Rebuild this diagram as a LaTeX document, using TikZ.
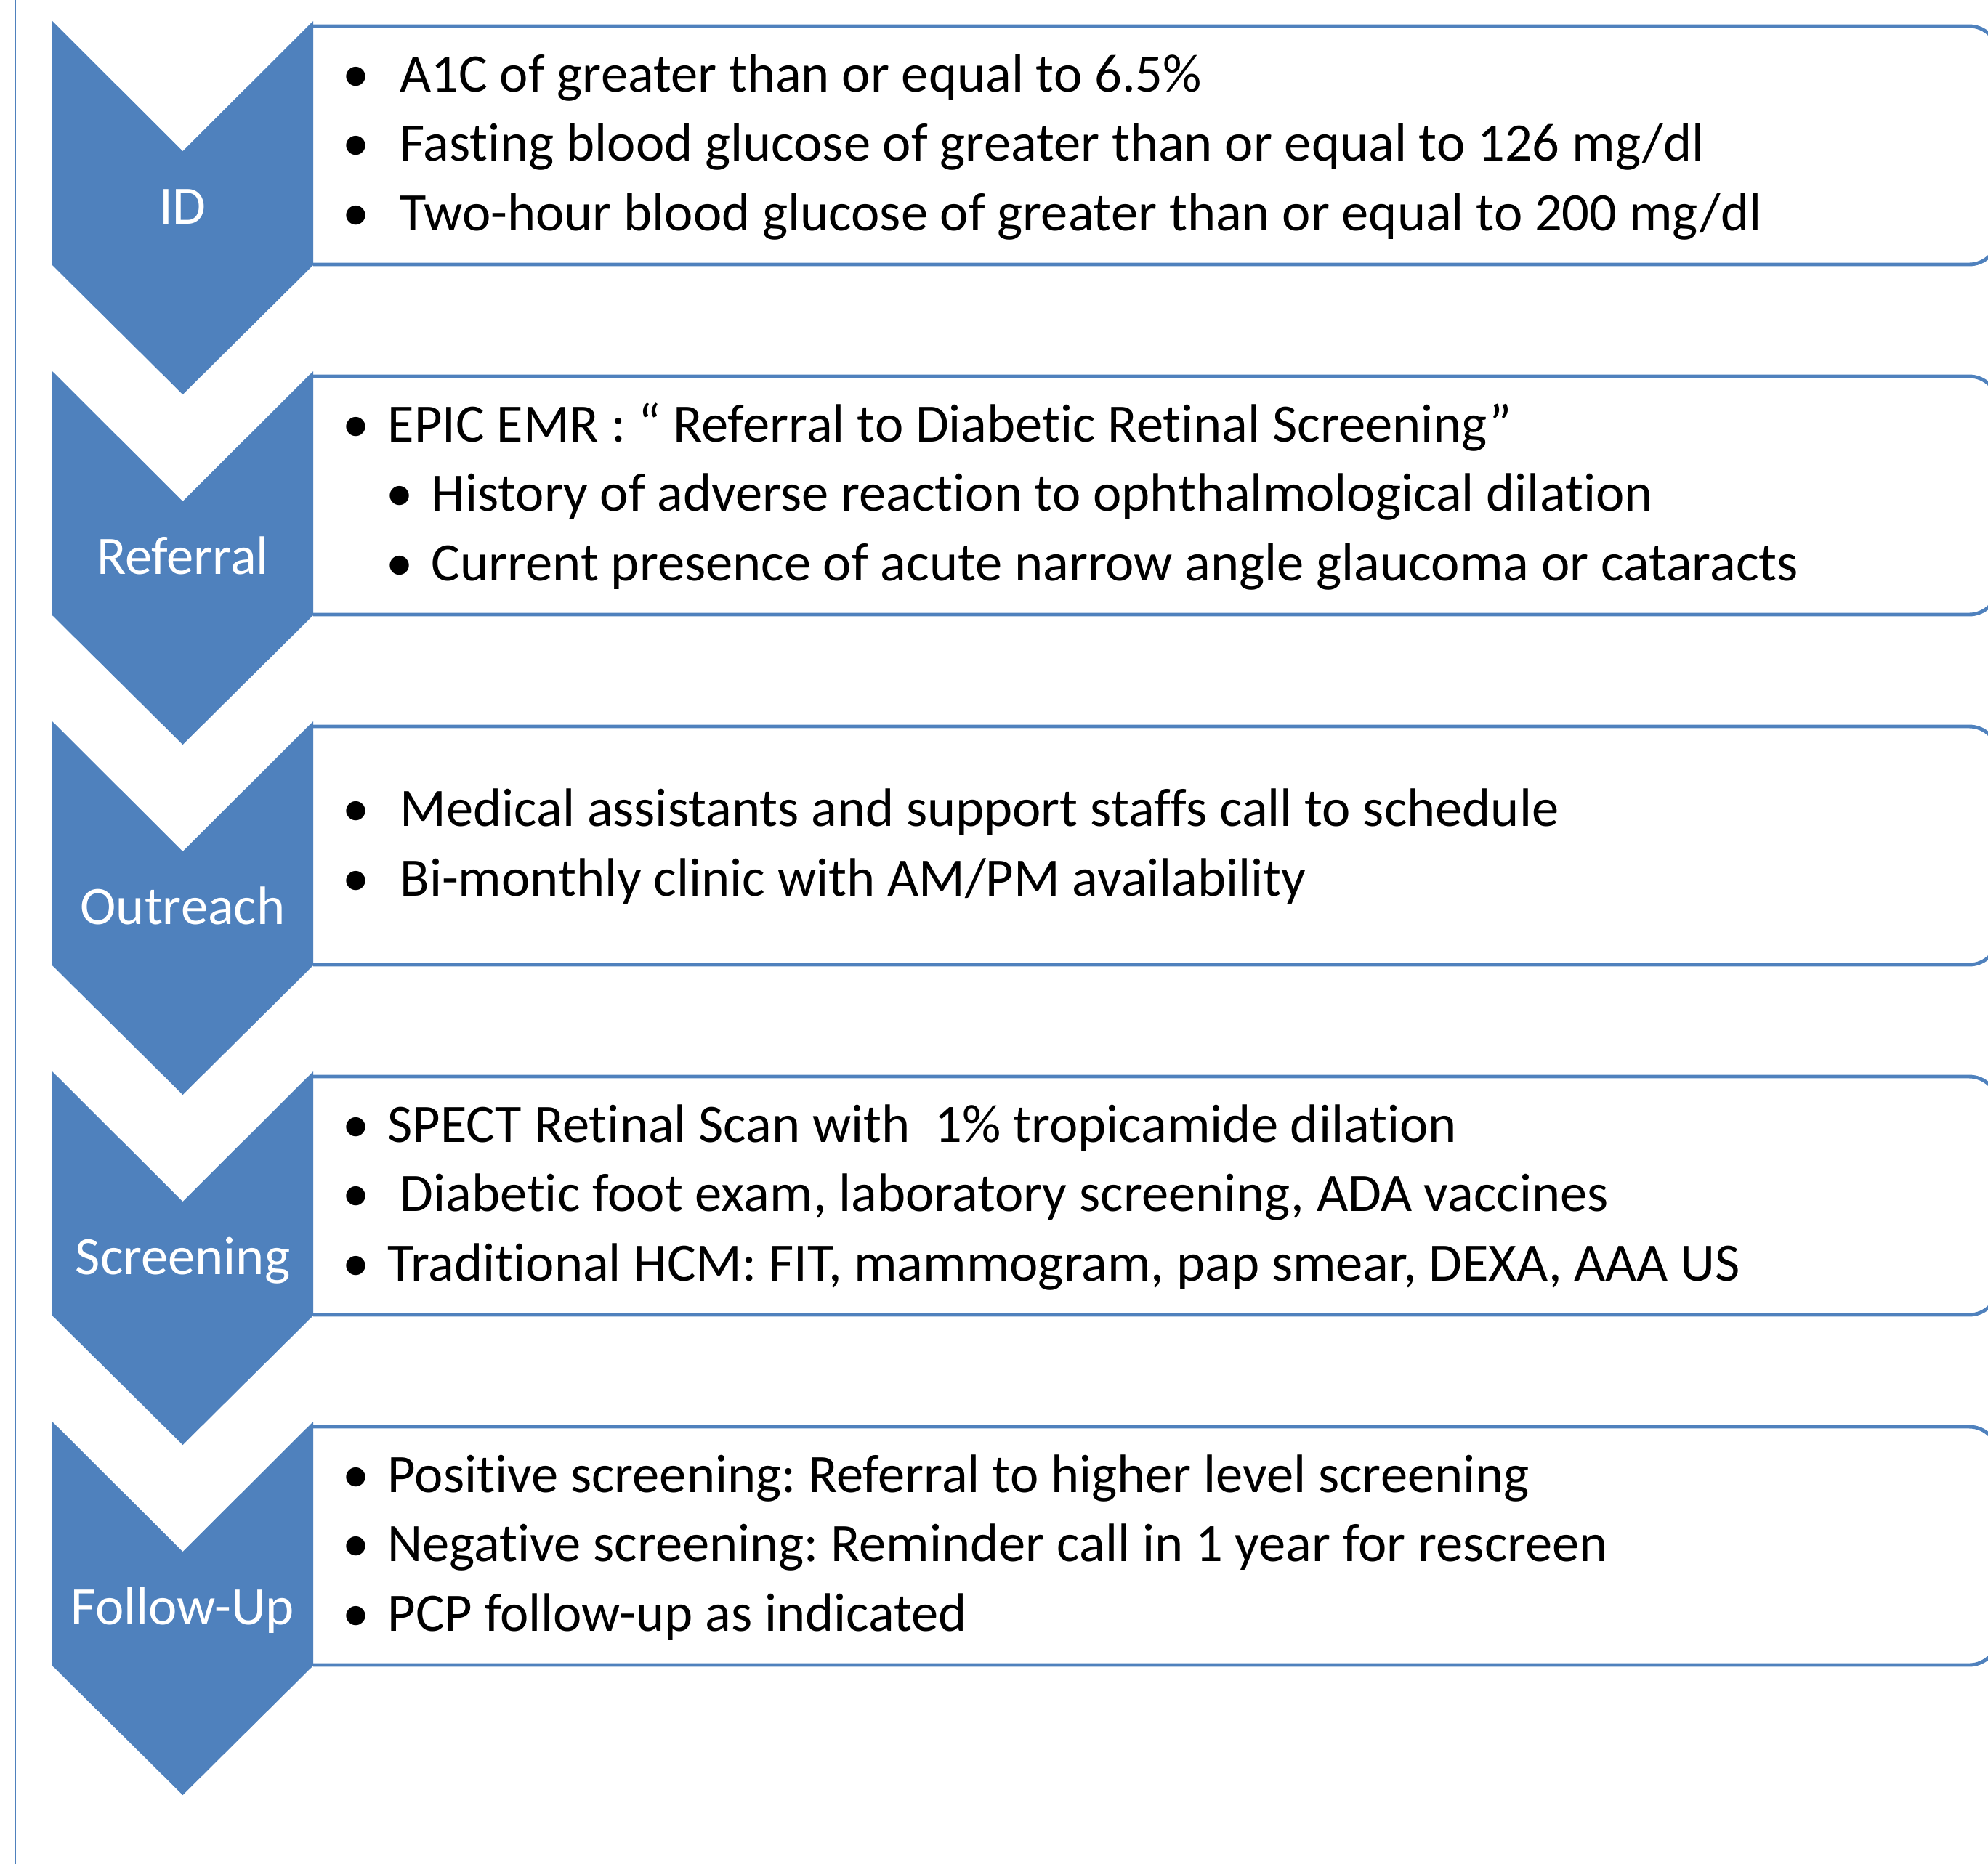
\documentclass[tikz,border=0pt]{standalone}
\usepackage{fontspec}
\setmainfont{Carlito}[Ligatures=NoCommon]
\definecolor{stepblue}{HTML}{4F81BD}
\newcommand{\blt}{\makebox[0pt]{\textbullet}\hspace{0.44cm}}
\frenchspacing

\begin{document}
\begin{tikzpicture}[every node/.style={font=\fontsize{21.2}{27.2}\selectfont},
		entry/.style={anchor=base west,inner sep=0pt},
		steplabel/.style={anchor=base,inner sep=0pt,text=white},
		chevron/.style={fill=stepblue},
		panel/.style={draw=stepblue,line width=1.4pt,rounded corners=0.4cm}]
			\useasboundingbox (0,0) rectangle (27.36,-25.66);
			\draw[stepblue,line width=0.6pt] (0.21,0) -- (0.21,-25.66);
			
			% text boxes
			\draw[panel] (4.31,-0.36) -- (27.5,-0.36) -- (27.5,-3.64) -- (4.31,-3.64);
			\draw[panel] (4.31,-5.18) -- (27.5,-5.18) -- (27.5,-8.46) -- (4.31,-8.46);
			\draw[panel] (4.31,-10.00) -- (27.5,-10.00) -- (27.5,-13.28) -- (4.31,-13.28);
			\draw[panel] (4.31,-14.82) -- (27.5,-14.82) -- (27.5,-18.10) -- (4.31,-18.10);
			\draw[panel] (4.31,-19.64) -- (27.5,-19.64) -- (27.5,-22.92) -- (4.31,-22.92);
			
			% chevrons
			\fill[chevron] (0.72,-0.29) -- (2.515,-2.08) -- (4.31,-0.29) -- (4.31,-3.65) -- (2.515,-5.43) -- (0.72,-3.65) -- cycle;
			\fill[chevron] (0.72,-5.11) -- (2.515,-6.90) -- (4.31,-5.11) -- (4.31,-8.47) -- (2.515,-10.25) -- (0.72,-8.47) -- cycle;
			\fill[chevron] (0.72,-9.93) -- (2.515,-11.72) -- (4.31,-9.93) -- (4.31,-13.29) -- (2.515,-15.07) -- (0.72,-13.29) -- cycle;
			\fill[chevron] (0.72,-14.75) -- (2.515,-16.54) -- (4.31,-14.75) -- (4.31,-18.11) -- (2.515,-19.89) -- (0.72,-18.11) -- cycle;
			\fill[chevron] (0.72,-19.57) -- (2.515,-21.36) -- (4.31,-19.57) -- (4.31,-22.93) -- (2.515,-24.71) -- (0.72,-22.93) -- cycle;
			
			\node[steplabel] (lid) at (2.515,-3.08) {ID};
			\node[steplabel] (lref) at (2.515,-7.90) {Referral};
			\node[steplabel] (lout) at (2.515,-12.72) {Outreach};
			\node[steplabel] (lscr) at (2.515,-17.54) {Screening};
			\node[steplabel] (lfol) at (2.515,-22.36) {Follow-Up};
			
			\node[entry] (id1) at (4.89,-1.26) {\blt\ A1C of greater than or equal to 6.5\%};
			\node[entry] (id2) at (4.89,-2.215) {\blt\ Fasting blood glucose of greater than or equal to 126 mg/dl};
			\node[entry] (id3) at (4.89,-3.17) {\blt\ Two-hour blood glucose of greater than or equal to 200 mg/dl};
			
			\node[entry] (ref1) at (4.89,-6.08) {\blt EPIC EMR : “ Referral to Diabetic Retinal Screening”};
			\node[entry] (ref2) at (5.49,-7.035) {\blt History of adverse reaction to ophthalmological dilation};
			\node[entry] (ref3) at (5.49,-7.99) {\blt Current presence of acute narrow angle glaucoma or cataracts};
			
			\node[entry] (out1) at (4.89,-11.37) {\blt\ Medical assistants and support staffs call to schedule};
			\node[entry] (out2) at (4.89,-12.33) {\blt\ Bi-monthly clinic with AM/PM availability};
			
			\node[entry] (scr1) at (4.89,-15.72) {\blt SPECT Retinal Scan with\ \ 1\% tropicamide dilation};
			\node[entry] (scr2) at (4.89,-16.675) {\blt\ Diabetic foot exam, laboratory screening, ADA vaccines};
			\node[entry] (scr3) at (4.89,-17.63) {\blt Traditional HCM: FIT, mammogram, pap smear, DEXA, AAA US};
			
			\node[entry] (fol1) at (4.89,-20.54) {\blt Positive screening: Referral to higher level screening};
			\node[entry] (fol2) at (4.89,-21.495) {\blt Negative screening: Reminder call in 1 year for rescreen};
			\node[entry] (fol3) at (4.89,-22.45) {\blt PCP follow-up as indicated};
		\end{tikzpicture}
\end{document}
